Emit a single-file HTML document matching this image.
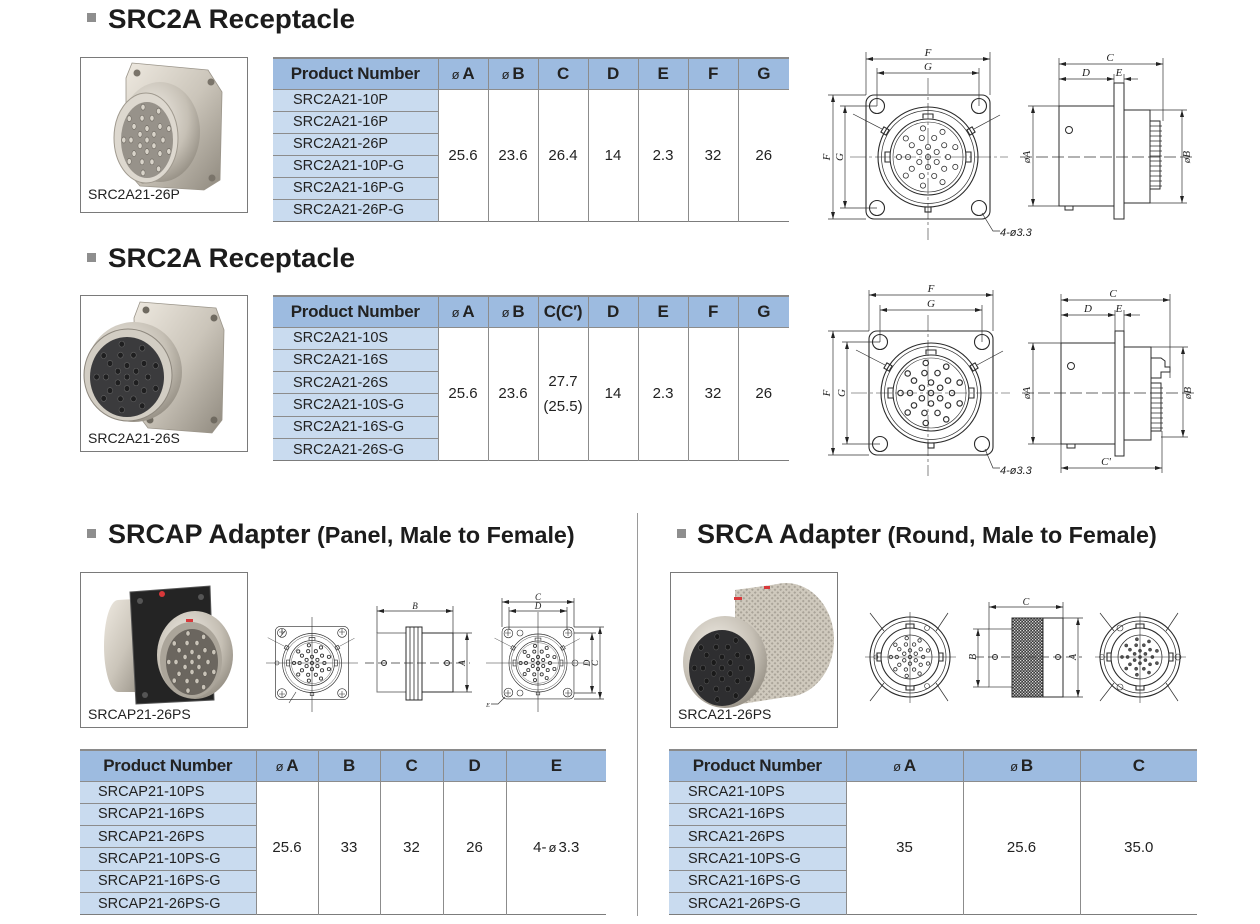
<!DOCTYPE html>
<html><head><meta charset="utf-8">
<style>
html,body{margin:0;padding:0;background:#fff}
body{width:1260px;height:924px;position:relative;overflow:hidden;font-family:"Liberation Sans",sans-serif;color:#222}
.t{position:absolute;border-collapse:collapse;table-layout:fixed;font-family:"Liberation Sans",sans-serif;color:#222;border-bottom:1.5px solid #7c7c7c}
.t th{background:#9dbbe0;font-size:17px;font-weight:bold;border-top:2px solid #8a8a8a;border-left:1px solid #8c8c8c;padding:0;text-align:center;vertical-align:middle;letter-spacing:-0.3px}
.t th:first-child{border-left:none}
.t tr.h{height:31px}
.t tr.r{height:22px}
.t tr.r2{height:22.3px}
.t td{padding:0;vertical-align:middle}
.t td.p{background:#c9dbef;font-size:14.5px;text-align:left;border-top:1px solid #8c8c8c;white-space:nowrap}
.t td.v{background:#fff;text-align:center;font-size:15px;border-left:1px solid #8c8c8c;border-top:1px solid #8c8c8c;line-height:25px}
.o{font-size:13px;font-weight:normal;margin-right:3px}
</style></head>
<body>
<svg width="1260" height="924" viewBox="0 0 1260 924" style="position:absolute;left:0;top:0;font-family:'Liberation Sans',sans-serif" xmlns="http://www.w3.org/2000/svg">
<defs>
<marker id="ar" viewBox="0 0 7 4" refX="7" refY="2" markerWidth="7" markerHeight="4" markerUnits="userSpaceOnUse" orient="auto-start-reverse"><path d="M0,0L7,2L0,4z" fill="#222"/></marker>
<g id="pins">
<circle cx="0" cy="0" r="2.6"/><circle cx="8.7" cy="5" r="2.6"/><circle cx="0" cy="10" r="2.6"/><circle cx="-8.7" cy="5" r="2.6"/><circle cx="-8.7" cy="-5" r="2.6"/><circle cx="0" cy="-10" r="2.6"/><circle cx="8.7" cy="-5" r="2.6"/>
<circle cx="20" cy="0" r="2.6"/><circle cx="16.2" cy="11.8" r="2.6"/><circle cx="6.2" cy="19" r="2.6"/><circle cx="-6.2" cy="19" r="2.6"/><circle cx="-16.2" cy="11.8" r="2.6"/><circle cx="-20" cy="0" r="2.6"/><circle cx="-16.2" cy="-11.8" r="2.6"/><circle cx="-6.2" cy="-19" r="2.6"/><circle cx="6.2" cy="-19" r="2.6"/><circle cx="16.2" cy="-11.8" r="2.6"/>
<circle cx="27.3" cy="9.9" r="2.6"/><circle cx="14.5" cy="25.1" r="2.6"/><circle cx="-5" cy="28.6" r="2.6"/><circle cx="-22.2" cy="18.6" r="2.6"/><circle cx="-29" cy="0" r="2.6"/><circle cx="-22.2" cy="-18.6" r="2.6"/><circle cx="-5" cy="-28.6" r="2.6"/><circle cx="14.5" cy="-25.1" r="2.6"/><circle cx="27.3" cy="-9.9" r="2.6"/>
</g>
<g id="sq" fill="none" stroke="#2b2b2b" stroke-width="1.1">
<rect x="-62" y="-62" width="124" height="124" rx="8"/>
<circle cx="-51" cy="-51" r="7.5"/><circle cx="51" cy="-51" r="7.5"/><circle cx="-51" cy="51" r="7.5"/><circle cx="51" cy="51" r="7.5"/>
<circle r="50"/><circle r="46.5" stroke-width=".7"/><circle r="38"/><circle r="35" stroke-width=".6"/>
<path d="M-5,-38.5 L-5,-43 L5,-43 L5,-38.5"/>
<path d="M-38,-5 L-43,-5 L-43,5 L-38,5"/>
<path d="M38,-5 L43,-5 L43,5 L38,5"/>
<rect x="-3" y="50" width="6" height="5"/>
<rect x="-3" y="-3" width="6" height="6" transform="translate(-43,-26) rotate(-60)"/>
<rect x="-3" y="-3" width="6" height="6" transform="translate(43,-26) rotate(60)"/>
<line x1="-46" y1="-28" x2="-75" y2="-43" stroke-width=".7"/>
<line x1="46" y1="-28" x2="72" y2="-42" stroke-width=".7"/>
</g>
<g id="rd" fill="none" stroke="#2b2b2b" stroke-width="1.1">
<circle r="40"/><circle r="36" stroke-width=".7"/><circle r="29"/><circle r="22" stroke-width=".7"/>
<path d="M-4,-29 L-4,-33 L4,-33 L4,-29"/>
<path d="M-29,-4 L-33,-4 L-33,4 L-29,4"/>
<path d="M29,-4 L33,-4 L33,4 L29,4"/>
<path d="M-4,29 L-4,33 L4,33 L4,29"/>
<line x1="-26" y1="-26" x2="-40" y2="-44" stroke-width=".7"/>
<line x1="26" y1="-26" x2="38" y2="-44" stroke-width=".7"/>
<line x1="-26" y1="26" x2="-40" y2="44" stroke-width=".7"/>
<line x1="26" y1="26" x2="38" y2="44" stroke-width=".7"/>
</g>
<linearGradient id="mt" x1="0" y1="0" x2="1" y2="1"><stop offset="0" stop-color="#eee9e0"/><stop offset=".5" stop-color="#cbc5ba"/><stop offset="1" stop-color="#8f897e"/></linearGradient>
<radialGradient id="mr" cx=".4" cy=".35" r=".75"><stop offset="0" stop-color="#f1ede6"/><stop offset=".6" stop-color="#c6c0b5"/><stop offset="1" stop-color="#8a8479"/></radialGradient>
<pattern id="kd" width="3" height="3" patternUnits="userSpaceOnUse"><rect width="3" height="3" fill="#3a3a3a"/><rect width="1.3" height="1.3" fill="#dcdcdc"/><rect x="1.5" y="1.5" width="1.3" height="1.3" fill="#dcdcdc"/></pattern>
<pattern id="kl" width="4" height="4" patternUnits="userSpaceOnUse" patternTransform="rotate(45)"><rect width="4" height="4" fill="#cfc9bd"/><rect width="2" height="2" fill="#a9a398"/></pattern>
</defs>

<!-- Titles -->
<rect x="87" y="13" width="9" height="9" fill="#8e8e8e"/>
<text x="108" y="28" font-size="27" font-weight="bold" fill="#1c1c1c" textLength="247" lengthAdjust="spacingAndGlyphs">SRC2A Receptacle</text>
<rect x="87" y="253" width="9" height="9" fill="#8e8e8e"/>
<text x="108" y="267" font-size="27" font-weight="bold" fill="#1c1c1c" textLength="247" lengthAdjust="spacingAndGlyphs">SRC2A Receptacle</text>
<rect x="87" y="529" width="9" height="9" fill="#8e8e8e"/>
<text x="108" y="543" font-weight="bold" fill="#1c1c1c"><tspan font-size="27">SRCAP Adapter</tspan><tspan font-size="23.3"> (Panel, Male to Female)</tspan></text>
<rect x="677" y="529" width="9" height="9" fill="#8e8e8e"/>
<text x="697" y="543" font-weight="bold" fill="#1c1c1c"><tspan font-size="27">SRCA Adapter</tspan><tspan font-size="23.3"> (Round, Male to Female)</tspan></text>

<line x1="637.5" y1="513" x2="637.5" y2="916" stroke="#9a9a9a" stroke-width="1"/>

<!-- Photo boxes -->
<g fill="none" stroke="#7a7a7a" stroke-width="1">
<rect x="80.5" y="57.5" width="167" height="155"/>
<rect x="80.5" y="295.5" width="167" height="156"/>
<rect x="80.5" y="572.5" width="167" height="155"/>
<rect x="670.5" y="572.5" width="167" height="155"/>
</g>

<!-- Photo 1 -->
<polygon points="132,63 208,70 222,92 220,180 204,190 140,186 126,170 126,78" fill="url(#mt)" stroke="#9b958a" stroke-width=".8"/>
<circle cx="137" cy="73" r="3.5" fill="#7a746a"/><circle cx="211" cy="82" r="3.5" fill="#7a746a"/><circle cx="212" cy="178" r="3.5" fill="#7a746a"/><circle cx="143" cy="180" r="3.5" fill="#7a746a"/>
<ellipse cx="160" cy="132" rx="40" ry="50" fill="url(#mr)"/>
<ellipse cx="146" cy="138" rx="32" ry="45" fill="#ddd8cf" stroke="#a09a8f"/>
<ellipse cx="147" cy="140" rx="26" ry="38" fill="#97928a"/>
<use href="#pins" transform="translate(147,140) scale(.8,1.15)" fill="#d9d4ca" stroke="#6f6a62" stroke-width=".6"/>
<text x="88" y="199" font-size="14" fill="#222">SRC2A21-26P</text>

<!-- Photo 2 -->
<polygon points="140,302 216,308 224,330 222,420 212,433 148,428 136,412 134,318" fill="url(#mt)" stroke="#9b958a" stroke-width=".8"/>
<circle cx="146" cy="310" r="3.5" fill="#6f6a60"/><circle cx="214" cy="318" r="3.5" fill="#6f6a60"/><circle cx="214" cy="420" r="3.5" fill="#6f6a60"/><circle cx="150" cy="420" r="3.5" fill="#6f6a60"/>
<ellipse cx="134" cy="372" rx="48" ry="50" fill="url(#mr)"/>
<ellipse cx="128" cy="375" rx="44" ry="46" fill="#d2cdc3" stroke="#8e887e"/>
<ellipse cx="127" cy="377" rx="37" ry="40" fill="#3b3b3d"/>
<use href="#pins" transform="translate(127,377) scale(1.05,1.15)" fill="#1f1f20" stroke="#666" stroke-width=".5"/>
<text x="88" y="443" font-size="14" fill="#222">SRC2A21-26S</text>

<!-- Photo 3 -->
<path d="M150,598 L118,600 A14,46 0 0 0 118,692 L150,692Z" fill="url(#mt)"/>
<polygon points="130,592 210,586 214,700 136,704" fill="#242424" stroke="#555" stroke-width="1"/>
<circle cx="140" cy="601" r="3" fill="#555"/><circle cx="201" cy="597" r="3" fill="#555"/><circle cx="205" cy="691" r="3" fill="#555"/><circle cx="145" cy="695" r="3" fill="#555"/>
<ellipse cx="195" cy="655" rx="38" ry="44" fill="url(#mr)"/>
<ellipse cx="191" cy="660" rx="31" ry="38" fill="#aba59a"/>
<ellipse cx="192" cy="662" rx="26" ry="33" fill="#6b665f"/>
<use href="#pins" transform="translate(192,662) scale(.8,1)" fill="#c9c3b8" stroke="#4a4640" stroke-width=".5"/>
<circle cx="162" cy="594" r="3" fill="#d8383a"/><rect x="186" y="619" width="7" height="3" fill="#d8383a"/>
<text x="88" y="719" font-size="14" fill="#222">SRCAP21-26PS</text>

<!-- Photo 4 -->
<ellipse cx="786" cy="640" rx="48" ry="57" fill="url(#kl)"/>
<path d="M735,590 L786,583 L786,697 L735,705 Z" fill="url(#kl)"/>
<ellipse cx="725" cy="662" rx="42" ry="46" fill="url(#mr)"/>
<ellipse cx="722" cy="668" rx="33" ry="38" fill="#2e2e30"/>
<use href="#pins" transform="translate(722,668) scale(.95,1.1)" fill="#1a1a1a" stroke="#555" stroke-width=".5"/>
<rect x="734" y="597" width="8" height="3" fill="#d8383a"/><rect x="764" y="586" width="6" height="3" fill="#d8383a"/>
<text x="678" y="719" font-size="14" fill="#222">SRCA21-26PS</text>

<!-- Drawing 1 front -->
<use href="#sq" transform="translate(928,157)"/>
<use href="#pins" transform="translate(928,157)" fill="none" stroke="#333" stroke-width=".8"/>
<g stroke="#333" stroke-width=".6" stroke-dasharray="16 3 3 3" fill="none">
<line x1="928" y1="78" x2="928" y2="240"/><line x1="850" y1="157" x2="1008" y2="157"/>
<line x1="928" y1="315" x2="928" y2="476"/><line x1="851" y1="393" x2="1010" y2="393"/>
</g>
<g stroke="#333" stroke-width=".7" fill="none">
<line x1="866" y1="59" x2="990" y2="59" marker-start="url(#ar)" marker-end="url(#ar)"/>
<line x1="866" y1="52" x2="866" y2="95"/><line x1="990" y1="52" x2="990" y2="95"/>
<line x1="877" y1="73" x2="979" y2="73" marker-start="url(#ar)" marker-end="url(#ar)"/>
<line x1="877" y1="68" x2="877" y2="106"/><line x1="979" y1="68" x2="979" y2="106"/>
<line x1="833" y1="95" x2="833" y2="219" marker-start="url(#ar)" marker-end="url(#ar)"/>
<line x1="828" y1="95" x2="866" y2="95"/><line x1="828" y1="219" x2="866" y2="219"/>
<line x1="845" y1="106" x2="845" y2="208" marker-start="url(#ar)" marker-end="url(#ar)"/>
<line x1="840" y1="106" x2="877" y2="106"/><line x1="840" y1="208" x2="877" y2="208"/>
<polyline points="982,213 993,231 1000,231"/>
</g>
<g font-family="Liberation Serif,serif" font-style="italic" font-size="11" fill="#222" text-anchor="middle">
<text x="928" y="56">F</text><text x="928" y="70">G</text>
<text transform="translate(830,157) rotate(-90)">F</text>
<text transform="translate(843,157) rotate(-90)">G</text>
</g>
<text x="1000" y="236" font-size="11" font-style="italic" fill="#222">4-ø3.3</text>

<!-- Drawing 1 side -->
<g stroke="#2b2b2b" stroke-width="1" fill="none">
<rect x="1059" y="106" width="55" height="100"/>
<rect x="1114" y="83" width="10" height="136"/>
<rect x="1124" y="110" width="26" height="93"/>
<rect x="1150" y="121" width="10" height="68"/>
<path d="M1150,126h12M1150,131h12M1150,136h12M1150,141h12M1150,146h12M1150,151h12M1150,156h12M1150,161h12M1150,166h12M1150,171h12M1150,176h12M1150,181h12M1150,186h12" stroke-width=".7"/>
<circle cx="1069" cy="130" r="3.5"/>
<rect x="1065" y="206" width="8" height="4"/>
</g>
<g stroke="#333" stroke-width=".7" fill="none">
<line x1="1059" y1="64" x2="1163" y2="64" marker-start="url(#ar)" marker-end="url(#ar)"/>
<line x1="1059" y1="58" x2="1059" y2="106"/><line x1="1163" y1="58" x2="1163" y2="121"/>
<line x1="1059" y1="79" x2="1114" y2="79" marker-start="url(#ar)" marker-end="url(#ar)"/>
<line x1="1138" y1="79" x2="1124" y2="79" marker-end="url(#ar)"/>
<line x1="1114" y1="74" x2="1114" y2="83"/><line x1="1124" y1="74" x2="1124" y2="83"/>
<line x1="1033" y1="106" x2="1033" y2="206" marker-start="url(#ar)" marker-end="url(#ar)"/>
<line x1="1028" y1="106" x2="1059" y2="106"/><line x1="1028" y1="206" x2="1059" y2="206"/>
<line x1="1182" y1="110" x2="1182" y2="203" marker-start="url(#ar)" marker-end="url(#ar)"/>
<line x1="1150" y1="110" x2="1187" y2="110"/><line x1="1150" y1="203" x2="1187" y2="203"/>
<line x1="1020" y1="157" x2="1196" y2="157" stroke-dasharray="12 4"/>
</g>
<g font-family="Liberation Serif,serif" font-style="italic" font-size="11" fill="#222" text-anchor="middle">
<text x="1110" y="61">C</text><text x="1086" y="76">D</text><text x="1119" y="76">E</text>
<text transform="translate(1030,157) rotate(-90)">øA</text>
<text transform="translate(1190,157) rotate(-90)">øB</text>
</g>

<!-- Drawing 2 front -->
<use href="#sq" transform="translate(931,393)"/>
<use href="#pins" transform="translate(931,393) scale(1.05)" fill="none" stroke="#333" stroke-width="1.1"/>
<g stroke="#333" stroke-width=".7" fill="none">
<line x1="869" y1="295" x2="993" y2="295" marker-start="url(#ar)" marker-end="url(#ar)"/>
<line x1="869" y1="290" x2="869" y2="331"/><line x1="993" y1="290" x2="993" y2="331"/>
<line x1="880" y1="310" x2="982" y2="310" marker-start="url(#ar)" marker-end="url(#ar)"/>
<line x1="880" y1="305" x2="880" y2="342"/><line x1="982" y1="305" x2="982" y2="342"/>
<line x1="833" y1="331" x2="833" y2="455" marker-start="url(#ar)" marker-end="url(#ar)"/>
<line x1="828" y1="331" x2="869" y2="331"/><line x1="828" y1="455" x2="869" y2="455"/>
<line x1="847" y1="342" x2="847" y2="444" marker-start="url(#ar)" marker-end="url(#ar)"/>
<line x1="842" y1="342" x2="880" y2="342"/><line x1="842" y1="444" x2="880" y2="444"/>
<polyline points="985,449 993,468 1000,468"/>
</g>
<g font-family="Liberation Serif,serif" font-style="italic" font-size="11" fill="#222" text-anchor="middle">
<text x="931" y="292">F</text><text x="931" y="307">G</text>
<text transform="translate(830,393) rotate(-90)">F</text>
<text transform="translate(845,393) rotate(-90)">G</text>
</g>
<text x="1000" y="474" font-size="11" font-style="italic" fill="#222">4-ø3.3</text>

<!-- Drawing 2 side -->
<g stroke="#2b2b2b" stroke-width="1" fill="none">
<rect x="1061" y="343" width="54" height="101"/>
<rect x="1115" y="331" width="9" height="125"/>
<rect x="1124" y="347" width="27" height="93"/>
<rect x="1151" y="383" width="10" height="48"/>
<path d="M1151,358h10l4,3v6h5v5h-9v6h-10z"/>
<path d="M1151,388h12M1151,393h12M1151,398h12M1151,403h12M1151,408h12M1151,413h12M1151,418h12M1151,423h12M1151,428h12" stroke-width=".7"/>
<circle cx="1071" cy="366" r="3.5"/>
<rect x="1067" y="444" width="8" height="4"/>
</g>
<g stroke="#333" stroke-width=".7" fill="none">
<line x1="1061" y1="300" x2="1170" y2="300" marker-start="url(#ar)" marker-end="url(#ar)"/>
<line x1="1061" y1="294" x2="1061" y2="343"/><line x1="1170" y1="294" x2="1170" y2="378"/>
<line x1="1061" y1="315" x2="1115" y2="315" marker-start="url(#ar)" marker-end="url(#ar)"/>
<line x1="1140" y1="315" x2="1124" y2="315" marker-end="url(#ar)"/>
<line x1="1115" y1="310" x2="1115" y2="331"/><line x1="1124" y1="310" x2="1124" y2="331"/>
<line x1="1061" y1="468" x2="1162" y2="468" marker-start="url(#ar)" marker-end="url(#ar)"/>
<line x1="1061" y1="444" x2="1061" y2="473"/><line x1="1162" y1="431" x2="1162" y2="473"/>
<line x1="1033" y1="343" x2="1033" y2="444" marker-start="url(#ar)" marker-end="url(#ar)"/>
<line x1="1028" y1="343" x2="1061" y2="343"/><line x1="1028" y1="444" x2="1061" y2="444"/>
<line x1="1183" y1="347" x2="1183" y2="437" marker-start="url(#ar)" marker-end="url(#ar)"/>
<line x1="1151" y1="347" x2="1188" y2="347"/><line x1="1161" y1="437" x2="1188" y2="437"/>
<line x1="1022" y1="393" x2="1196" y2="393" stroke-dasharray="12 4"/>
</g>
<g font-family="Liberation Serif,serif" font-style="italic" font-size="11" fill="#222" text-anchor="middle">
<text x="1113" y="297">C</text><text x="1088" y="312">D</text><text x="1119" y="312">E</text>
<text x="1106" y="465">C'</text>
<text transform="translate(1030,393) rotate(-90)">øA</text>
<text transform="translate(1191,393) rotate(-90)">øB</text>
</g>

<!-- Bottom-left drawings -->
<use href="#sq" transform="translate(312,663) scale(.59)"/>
<use href="#pins" transform="translate(312,663) scale(.62)" fill="none" stroke="#333" stroke-width="1.4"/>
<g stroke="#333" stroke-width=".6" fill="none">
<line x1="312" y1="617" x2="312" y2="712"/><line x1="266" y1="663" x2="358" y2="663"/>
<line x1="285" y1="631" x2="280" y2="637"/><line x1="282" y1="629" x2="282" y2="635"/>
<path d="M279,632h6M339,632h6M279,694h6M339,694h6M282,629v6M342,629v6M282,691v6M342,691v6"/>
<line x1="296" y1="692" x2="289" y2="703"/>
<circle cx="277" cy="663" r="2"/>
</g>
<g stroke="#2b2b2b" stroke-width="1" fill="none">
<rect x="377" y="633" width="29" height="59" stroke="#777"/>
<rect x="406" y="627" width="16" height="73"/>
<path d="M410,627v73M414,627v73M418,627v73" stroke-width=".8"/>
<rect x="422" y="633" width="31" height="59"/>
<circle cx="384" cy="663" r="2.5"/><circle cx="447" cy="663" r="2.5"/>
</g>
<g stroke="#333" stroke-width=".7" fill="none">
<line x1="377" y1="611" x2="453" y2="611" marker-start="url(#ar)" marker-end="url(#ar)"/>
<line x1="377" y1="606" x2="377" y2="633"/><line x1="453" y1="606" x2="453" y2="633"/>
<line x1="467" y1="633" x2="467" y2="692" marker-start="url(#ar)" marker-end="url(#ar)"/>
<line x1="453" y1="633" x2="472" y2="633"/><line x1="453" y1="692" x2="472" y2="692"/>
<line x1="365" y1="663" x2="470" y2="663" stroke-dasharray="9 4"/>
</g>
<use href="#sq" transform="translate(538,663) scale(.58)"/>
<use href="#pins" transform="translate(538,663) scale(.6)" fill="none" stroke="#333" stroke-width="1.4"/>
<g stroke="#333" stroke-width=".6" fill="none">
<line x1="538" y1="612" x2="538" y2="712"/><line x1="486" y1="663" x2="590" y2="663"/>
<path d="M505,633h6M565,633h6M505,693h6M565,693h6M508,630v6M568,630v6M508,690v6M568,690v6"/>
<circle cx="520" cy="633" r="3"/><circle cx="520" cy="693" r="3"/><circle cx="575" cy="663" r="3"/>
</g>
<g stroke="#333" stroke-width=".7" fill="none">
<line x1="502" y1="602" x2="574" y2="602" marker-start="url(#ar)" marker-end="url(#ar)"/>
<line x1="502" y1="598" x2="502" y2="627"/><line x1="574" y1="598" x2="574" y2="627"/>
<line x1="509" y1="611" x2="567" y2="611" marker-start="url(#ar)" marker-end="url(#ar)"/>
<line x1="509" y1="607" x2="509" y2="630"/><line x1="567" y1="607" x2="567" y2="630"/>
<line x1="592" y1="633" x2="592" y2="693" marker-start="url(#ar)" marker-end="url(#ar)"/>
<line x1="574" y1="633" x2="596" y2="633"/><line x1="574" y1="693" x2="596" y2="693"/>
<line x1="600" y1="627" x2="600" y2="699" marker-start="url(#ar)" marker-end="url(#ar)"/>
<line x1="574" y1="627" x2="604" y2="627"/><line x1="574" y1="699" x2="604" y2="699"/>
<polyline points="505,697 498,704 491,704"/>
</g>
<g font-family="Liberation Serif,serif" font-style="italic" font-size="9" fill="#222" text-anchor="middle">
<text x="415" y="609">B</text>
<text transform="translate(465,663) rotate(-90)">A</text>
<text x="538" y="600">C</text><text x="538" y="609">D</text>
<text transform="translate(590,663) rotate(-90)">D</text>
<text transform="translate(598,663) rotate(-90)">C</text>
<text x="488" y="707" font-size="6">E</text>
</g>

<!-- Bottom-right drawings -->
<use href="#rd" transform="translate(910,657)"/>
<use href="#pins" transform="translate(910,657) scale(.66)" fill="none" stroke="#333" stroke-width="1.3"/>
<g stroke="#333" stroke-width=".6" fill="none">
<line x1="910" y1="612" x2="910" y2="703"/><line x1="865" y1="657" x2="956" y2="657"/>
<circle cx="927" cy="628" r="2.5"/><circle cx="927" cy="686" r="2.5"/><circle cx="876" cy="657" r="2"/>
</g>
<g stroke="#2b2b2b" stroke-width="1" fill="none">
<rect x="989" y="629" width="23" height="58" stroke="#777"/>
<rect x="1012" y="618" width="31" height="79" fill="url(#kd)"/>
<rect x="1043" y="618" width="20" height="79"/>
<circle cx="995" cy="657" r="2.5"/><circle cx="1058" cy="657" r="2.5"/>
</g>
<g stroke="#333" stroke-width=".7" fill="none">
<line x1="989" y1="607" x2="1063" y2="607" marker-start="url(#ar)" marker-end="url(#ar)"/>
<line x1="989" y1="602" x2="989" y2="629"/><line x1="1063" y1="602" x2="1063" y2="618"/>
<line x1="978" y1="629" x2="978" y2="687" marker-start="url(#ar)" marker-end="url(#ar)"/>
<line x1="973" y1="629" x2="989" y2="629"/><line x1="973" y1="687" x2="989" y2="687"/>
<line x1="1078" y1="618" x2="1078" y2="697" marker-start="url(#ar)" marker-end="url(#ar)"/>
<line x1="1063" y1="618" x2="1083" y2="618"/><line x1="1063" y1="697" x2="1083" y2="697"/>
<line x1="975" y1="657" x2="1082" y2="657" stroke-dasharray="9 4"/>
</g>
<g font-family="Liberation Serif,serif" font-style="italic" font-size="10" fill="#222" text-anchor="middle">
<text x="1026" y="605">C</text>
<text transform="translate(976,657) rotate(-90)">B</text>
<text transform="translate(1076,657) rotate(-90)">A</text>
</g>
<use href="#rd" transform="translate(1140,657)"/>
<use href="#pins" transform="translate(1140,657) scale(.62)" fill="#555" stroke="#333" stroke-width=".8"/>
<g stroke="#333" stroke-width=".6" fill="none">
<line x1="1140" y1="612" x2="1140" y2="703"/><line x1="1095" y1="657" x2="1186" y2="657"/>
<circle cx="1120" cy="628" r="3"/><circle cx="1120" cy="687" r="3"/><circle cx="1178" cy="657" r="3"/><circle cx="1102" cy="657" r="2.5"/>
</g>
</svg>

<!-- Table 1 -->
<table class="t" style="left:273px;top:57px;width:516px">
<colgroup><col style="width:165px"><col style="width:50px"><col style="width:50px"><col style="width:50px"><col style="width:50px"><col style="width:50px"><col style="width:50px"><col style="width:51px"></colgroup>
<tr class="h"><th>Product Number</th><th><span class="o">ø</span>A</th><th><span class="o">ø</span>B</th><th>C</th><th>D</th><th>E</th><th>F</th><th>G</th></tr>
<tr class="r"><td class="p" style="padding-left:20px">SRC2A21-10P</td><td class="v" rowspan="6">25.6</td><td class="v" rowspan="6">23.6</td><td class="v" rowspan="6">26.4</td><td class="v" rowspan="6">14</td><td class="v" rowspan="6">2.3</td><td class="v" rowspan="6">32</td><td class="v" rowspan="6">26</td></tr>
<tr class="r"><td class="p" style="padding-left:20px">SRC2A21-16P</td></tr>
<tr class="r"><td class="p" style="padding-left:20px">SRC2A21-26P</td></tr>
<tr class="r"><td class="p" style="padding-left:20px">SRC2A21-10P-G</td></tr>
<tr class="r"><td class="p" style="padding-left:20px">SRC2A21-16P-G</td></tr>
<tr class="r"><td class="p" style="padding-left:20px">SRC2A21-26P-G</td></tr>
</table>

<!-- Table 2 -->
<table class="t" style="left:273px;top:295px;width:516px">
<colgroup><col style="width:165px"><col style="width:50px"><col style="width:50px"><col style="width:50px"><col style="width:50px"><col style="width:50px"><col style="width:50px"><col style="width:51px"></colgroup>
<tr class="h"><th>Product Number</th><th><span class="o">ø</span>A</th><th><span class="o">ø</span>B</th><th>C(C′)</th><th>D</th><th>E</th><th>F</th><th>G</th></tr>
<tr class="r2"><td class="p" style="padding-left:20px">SRC2A21-10S</td><td class="v" rowspan="6">25.6</td><td class="v" rowspan="6">23.6</td><td class="v" rowspan="6">27.7<br>(25.5)</td><td class="v" rowspan="6">14</td><td class="v" rowspan="6">2.3</td><td class="v" rowspan="6">32</td><td class="v" rowspan="6">26</td></tr>
<tr class="r2"><td class="p" style="padding-left:20px">SRC2A21-16S</td></tr>
<tr class="r2"><td class="p" style="padding-left:20px">SRC2A21-26S</td></tr>
<tr class="r2"><td class="p" style="padding-left:20px">SRC2A21-10S-G</td></tr>
<tr class="r2"><td class="p" style="padding-left:20px">SRC2A21-16S-G</td></tr>
<tr class="r2"><td class="p" style="padding-left:20px">SRC2A21-26S-G</td></tr>
</table>

<!-- Table 3 -->
<table class="t" style="left:80px;top:749px;width:526px">
<colgroup><col style="width:176px"><col style="width:62px"><col style="width:62px"><col style="width:63px"><col style="width:63px"><col style="width:100px"></colgroup>
<tr class="h"><th>Product Number</th><th><span class="o">ø</span>A</th><th>B</th><th>C</th><th>D</th><th>E</th></tr>
<tr class="r2"><td class="p" style="padding-left:18px">SRCAP21-10PS</td><td class="v" rowspan="6">25.6</td><td class="v" rowspan="6">33</td><td class="v" rowspan="6">32</td><td class="v" rowspan="6">26</td><td class="v" rowspan="6">4-<span class="o" style="margin:0 2px">ø</span>3.3</td></tr>
<tr class="r2"><td class="p" style="padding-left:18px">SRCAP21-16PS</td></tr>
<tr class="r2"><td class="p" style="padding-left:18px">SRCAP21-26PS</td></tr>
<tr class="r2"><td class="p" style="padding-left:18px">SRCAP21-10PS-G</td></tr>
<tr class="r2"><td class="p" style="padding-left:18px">SRCAP21-16PS-G</td></tr>
<tr class="r2"><td class="p" style="padding-left:18px">SRCAP21-26PS-G</td></tr>
</table>

<!-- Table 4 -->
<table class="t" style="left:669px;top:749px;width:528px">
<colgroup><col style="width:177px"><col style="width:117px"><col style="width:117px"><col style="width:117px"></colgroup>
<tr class="h"><th>Product Number</th><th><span class="o">ø</span>A</th><th><span class="o">ø</span>B</th><th>C</th></tr>
<tr class="r2"><td class="p" style="padding-left:19px">SRCA21-10PS</td><td class="v" rowspan="6">35</td><td class="v" rowspan="6">25.6</td><td class="v" rowspan="6">35.0</td></tr>
<tr class="r2"><td class="p" style="padding-left:19px">SRCA21-16PS</td></tr>
<tr class="r2"><td class="p" style="padding-left:19px">SRCA21-26PS</td></tr>
<tr class="r2"><td class="p" style="padding-left:19px">SRCA21-10PS-G</td></tr>
<tr class="r2"><td class="p" style="padding-left:19px">SRCA21-16PS-G</td></tr>
<tr class="r2"><td class="p" style="padding-left:19px">SRCA21-26PS-G</td></tr>
</table>
</body></html>
